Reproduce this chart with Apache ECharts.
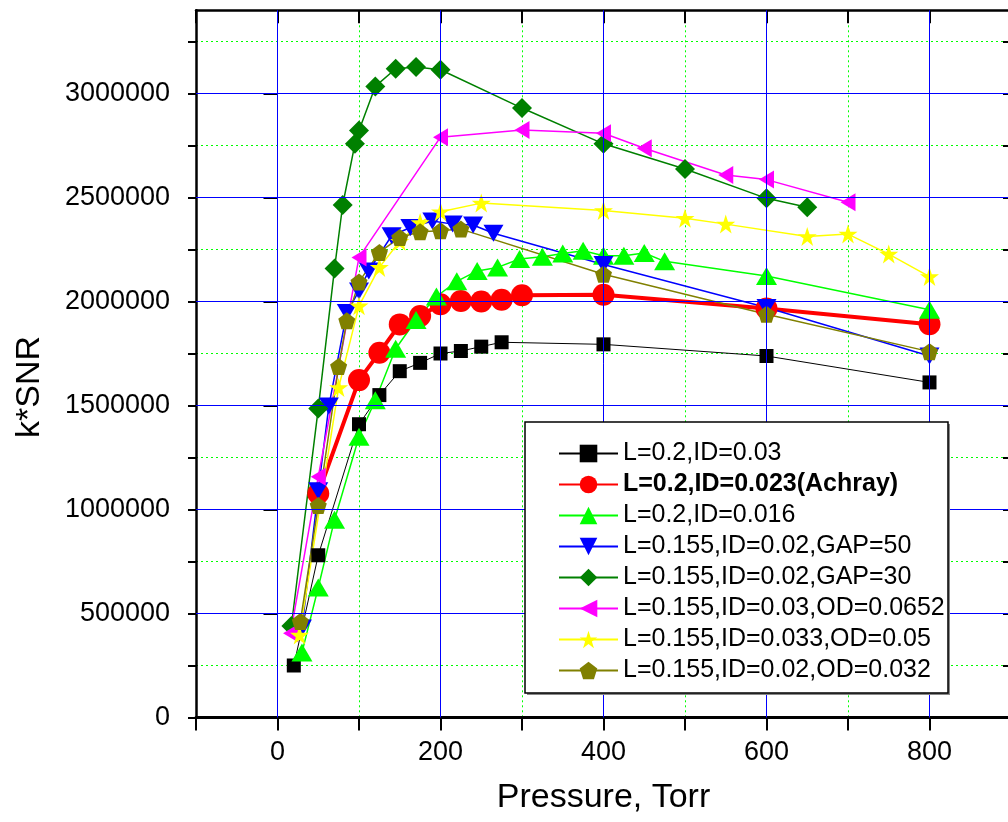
<!DOCTYPE html>
<html><head><meta charset="utf-8">
<script src="https://cdn.jsdelivr.net/npm/echarts@6/dist/echarts.min.js"></script>
<style>html,body{margin:0;padding:0;background:#fff;overflow:hidden}#c{width:1020px;height:822px}</style>
</head><body><div id="c"></div>
<script>
const seriesNames = ['L=0.2,ID=0.03','L=0.2,ID=0.023(Achray)','L=0.2,ID=0.016','L=0.155,ID=0.02,GAP=50','L=0.155,ID=0.02,GAP=30','L=0.155,ID=0.03,OD=0.0652','L=0.155,ID=0.033,OD=0.05','L=0.155,ID=0.02,OD=0.032'];

const xBlack = [20,50,100,125,150,175,200,225,250,275,400,600,800];
const yBlack = [250000,780000,1410000,1550000,1665000,1705000,1750000,1762000,1783000,1804000,1794000,1738000,1611000];
const xRed = [50,100,125,150,175,200,225,250,275,300,400,600,800];
const yRed = [1077000,1622000,1754000,1890000,1930000,1987000,2003000,2000000,2008000,2030000,2032000,1966000,1891000];
const xGreen = [30,50,70,100,120,145,170,195,220,245,270,297,325,350,375,400,425,450,475,600,800];
const yGreen = [312000,625000,951000,1350000,1525000,1773000,1911000,2024000,2097000,2147000,2164000,2204000,2215000,2231000,2244000,2220000,2220000,2233000,2193000,2123000,1960000];
const xBlue = [30,50,63,85,100,112,140,163,190,215,240,265,400,600,800];
const yBlue = [430000,1090000,1497000,1947000,2051000,2147000,2316000,2356000,2387000,2372000,2368000,2328000,2178000,1971000,1738000];
const xDkGreen = [17,50,70,80,95,100,120,145,170,200,300,400,500,600,650];
const yDkGreen = [440000,1485000,2159000,2464000,2758000,2822000,3034000,3119000,3127000,3114000,2930000,2758000,2637000,2496000,2453000];
const xMagenta = [16,50,100,200,300,400,450,550,600,700];
const yMagenta = [405000,1157000,2212000,2790000,2825000,2809000,2737000,2608000,2586000,2477000];
const xYellow = [27,75,100,125,150,175,200,250,400,500,550,650,700,750,800];
const yYellow = [397000,1586000,1979000,2164000,2290000,2380000,2432000,2473000,2437000,2400000,2372000,2313000,2324000,2228000,2120000];
const xOlive = [28,50,75,85,100,125,150,175,200,225,400,600,800];
const yOlive = [461000,1019000,1687000,1907000,2094000,2236000,2308000,2335000,2340000,2348000,2131000,1939000,1759000];

const xTickLabels = [0,200,400,600,800];
const yTickLabels = [0,500000,1000000,1500000,2000000,2500000,3000000];
const yMinorTicks = [0,250000,500000,750000,1000000,1250000,1500000,1750000,2000000,2250000,2500000,2750000,3000000,3250000];

const FONT = "'Liberation Sans', Arial, sans-serif";
const zip = (xs, ys) => xs.map((x, i) => [x, ys[i]]);
const STAR = 'path://M50,0 L61.8,35.3 L98.9,35.3 L68.9,57.1 L80.3,92.7 L50,70.6 L19.7,92.7 L31.1,57.1 L1.1,35.3 L38.2,35.3 Z';
const PENT = 'path://M50,0 L97.6,34.5 L79.4,90.5 L20.6,90.5 L2.4,34.5 Z';

function mk(name, data, color, symbol, size, width, rotate) {
  return {
    type: 'line', name, data, symbol, symbolSize: size, symbolRotate: rotate || 0,
    showSymbol: true, showAllSymbol: true, z: 2,
    lineStyle: { color, width },
    itemStyle: { color, borderWidth: 0 },
    emphasis: { disabled: true }, animation: false
  };
}

const chart = echarts.init(document.getElementById('c'), null, { renderer: 'canvas' });
const frameLine = { show: true, lineStyle: { color: '#000', width: 2.5 } };
const gridDotted = { show: true, showMinLine: false, showMaxLine: false, lineStyle: { color: '#00ff00', width: 1, type: [2, 3] } };
const common = { type: 'value', min: -100, max: 900, interval: 100 };
const ycommon = { type: 'value', min: 0, max: 3400000 };

chart.setOption({
  animation: false,
  backgroundColor: '#fff',
  grid: { left: 196, top: 10.3, width: 815, height: 707.2, containLabel: false },
  xAxis: [
    Object.assign({}, common, {
      position: 'bottom', z: 3,
      axisLine: { show: true, onZero: false, lineStyle: { color: '#000', width: 3 } },
      axisTick: { show: true, inside: false, length: 13, lineStyle: { color: '#000', width: 2 } },
      axisLabel: { show: true, margin: 22, fontSize: 27, color: '#000', fontFamily: FONT,
        formatter: v => xTickLabels.indexOf(v) >= 0 ? String(v) : '' },
      splitLine: { show: false },
      name: 'Pressure, Torr', nameLocation: 'middle', nameGap: 63,
      nameTextStyle: { fontSize: 34, color: '#000', fontFamily: FONT }
    }),
    Object.assign({}, common, {
      position: 'top', z: 3,
      axisLine: { show: true, onZero: false, lineStyle: { color: '#000', width: 2.5 } },
      axisTick: { show: true, inside: true, length: 13, lineStyle: { color: '#000', width: 2 } },
      axisLabel: { show: false }, splitLine: { show: false }
    }),
    Object.assign({}, common, {
      position: 'bottom', z: 0,
      axisLine: { show: false }, axisTick: { show: false }, axisLabel: { show: false },
      splitLine: gridDotted
    })
  ],
  yAxis: [
    Object.assign({}, ycommon, {
      position: 'left', interval: 250000, z: 3,
      axisLine: Object.assign({ onZero: false }, frameLine),
      axisTick: { show: true, inside: false, length: 8, customValues: yMinorTicks, lineStyle: { color: '#000', width: 2 } },
      axisLabel: { show: false }, splitLine: { show: false }
    }),
    Object.assign({}, ycommon, {
      position: 'left', interval: 500000, z: 3,
      axisLine: { show: false },
      axisTick: { show: true, inside: false, length: 14, customValues: yTickLabels, lineStyle: { color: '#000', width: 2 } },
      axisLabel: { show: true, margin: 26, fontSize: 27, color: '#000', fontFamily: FONT, customValues: yTickLabels,
        formatter: v => yTickLabels.indexOf(v) >= 0 ? String(v) : '' },
      splitLine: { show: false }
    }),
    Object.assign({}, ycommon, {
      position: 'right', interval: 250000, z: 3,
      axisLine: Object.assign({ onZero: false }, frameLine),
      axisTick: { show: true, inside: true, length: 8, customValues: yMinorTicks, lineStyle: { color: '#000', width: 2 } },
      axisLabel: { show: false }, splitLine: { show: false }
    }),
    Object.assign({}, ycommon, {
      position: 'right', interval: 500000, z: 3,
      axisLine: { show: false },
      axisTick: { show: true, inside: true, length: 14, customValues: yTickLabels, lineStyle: { color: '#000', width: 2 } },
      axisLabel: { show: false }, splitLine: { show: false }
    }),
    Object.assign({}, ycommon, {
      position: 'left', interval: 250000, z: 0,
      axisLine: { show: false }, axisTick: { show: false }, axisLabel: { show: false },
      splitLine: gridDotted
    })
  ],
  legend: {
    orient: 'vertical', left: 558, top: 441, itemWidth: 59, itemHeight: 22, itemGap: 6,
    padding: 0, z: 20, selectedMode: false,
    textStyle: { fontSize: 25, color: '#000', fontFamily: FONT },
    data: seriesNames.map((n, i) => i === 1 ? { name: n, textStyle: { fontWeight: 'bold' } } : n)
  },
  graphic: [
    { type: 'rect', z: 9, shape: { x: 527, y: 424, width: 423, height: 271 }, style: { fill: '#888' } },
    { type: 'rect', z: 10, shape: { x: 525, y: 422, width: 423, height: 271 }, style: { fill: '#fff', stroke: '#000', lineWidth: 1.5 } },
    { type: 'text', z: 10, x: 30, y: 387, rotation: Math.PI / 2,
      style: { text: 'k*SNR', fontSize: 34, fontFamily: FONT, fill: '#000', align: 'center', verticalAlign: 'middle', textAlign: 'center', textVerticalAlign: 'middle' } }
  ],
  series: [
    {
      type: 'line', data: [], z: 1, silent: true, animation: false,
      markLine: {
        silent: true, symbol: ['none', 'none'], label: { show: false }, animation: false,
        lineStyle: { color: '#0000ff', width: 1, type: 'solid' },
        emphasis: { disabled: true },
        data: xTickLabels.map(v => ({ xAxis: v })).concat(yTickLabels.filter(v => v > 0).map(v => ({ yAxis: v })))
      }
    },
    mk(seriesNames[0], zip(xBlack, yBlack), '#000000', 'rect', 14, 1),
    mk(seriesNames[1], zip(xRed, yRed), '#ff0000', 'circle', 22, 4),
    mk(seriesNames[2], zip(xGreen, yGreen), '#00ff00', 'triangle', [21, 18], 1.5),
    mk(seriesNames[3], zip(xBlue, yBlue), '#0000ff', 'triangle', [20, 17], 1.5, 180),
    mk(seriesNames[4], zip(xDkGreen, yDkGreen), '#008000', 'diamond', 20, 1.5),
    mk(seriesNames[5], zip(xMagenta, yMagenta), '#ff00ff', 'triangle', [18, 15], 1.5, 90),
    mk(seriesNames[6], zip(xYellow, yYellow), '#ffff00', STAR, 19, 1.5),
    mk(seriesNames[7], zip(xOlive, yOlive), '#808000', PENT, 17, 1.5)
  ]
});
</script></body></html>
